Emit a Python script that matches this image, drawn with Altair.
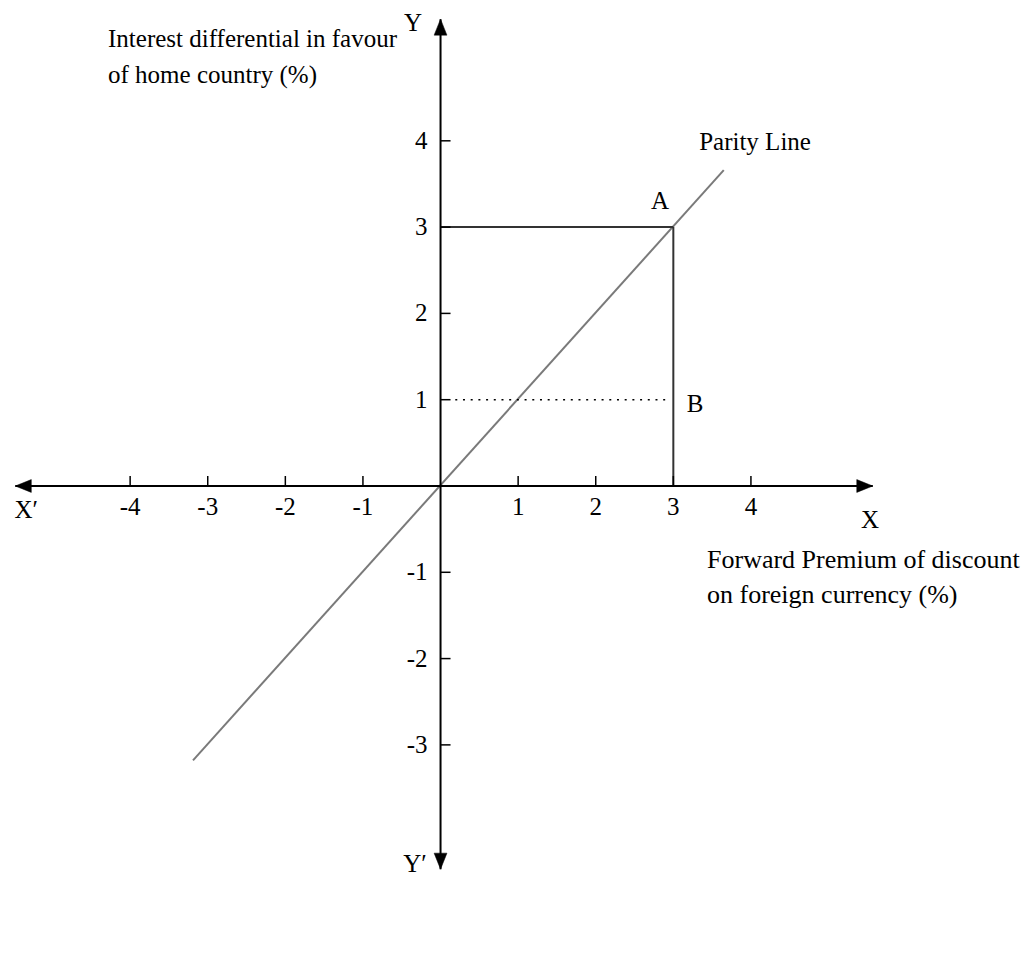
import altair as alt
import pandas as pd

# ---- values ----
X_TICKS = [-4, -3, -2, -1, 1, 2, 3, 4]
Y_TICKS = [-3, -2, -1, 1, 2, 3, 4]
X_AXIS_EXTENT = [-5.48, 5.57]
Y_AXIS_EXTENT = [-4.44, 5.41]
PARITY_X = [-3.19, 3.65]
PARITY_Y = [-3.18, 3.66]
POINT_A = [3, 3]
POINT_B_Y = 1

FONT = "Liberation Serif"
FS = 25
W, H = 1016, 954

xs = alt.Scale(domain=[-5.574, 7.519], nice=False, zero=False)
ys = alt.Scale(domain=[-5.516, 5.539], nice=False, zero=False)


def X(v):
    return alt.X(v, type="quantitative", scale=xs, axis=None)


def Y(v):
    return alt.Y(v, type="quantitative", scale=ys, axis=None)


def DX(v):
    return alt.X(datum=v, scale=xs, axis=None, type="quantitative")


def DY(v):
    return alt.Y(datum=v, scale=ys, axis=None, type="quantitative")


one = pd.DataFrame({"k": [0]})

# axes lines
x_axis = alt.Chart(one).mark_rule(color="black", strokeWidth=2).encode(
    x=DX(X_AXIS_EXTENT[0]), x2=alt.datum(X_AXIS_EXTENT[1]), y=DY(0),
)
y_axis = alt.Chart(one).mark_rule(color="black", strokeWidth=2).encode(
    y=DY(Y_AXIS_EXTENT[0]), y2=alt.datum(Y_AXIS_EXTENT[1]), x=DX(0),
)


def arrow(xv, yv, path):
    return alt.Chart(one).mark_point(
        shape=path, size=256, filled=True, fill="black", stroke="black",
        strokeWidth=0.5, opacity=1
    ).encode(x=DX(xv), y=DY(yv))


arrows = [
    arrow(X_AXIS_EXTENT[1], 0, "M0,0L-2,-0.8L-2,0.8Z"),
    arrow(X_AXIS_EXTENT[0], 0, "M0,0L2,-0.8L2,0.8Z"),
    arrow(0, Y_AXIS_EXTENT[1], "M0,0L-0.8,2L0.8,2Z"),
    arrow(0, Y_AXIS_EXTENT[0], "M0,0L-0.8,-2L0.8,-2Z"),
]

xt = pd.DataFrame({"v": X_TICKS, "lab": [str(v) for v in X_TICKS]})
yt = pd.DataFrame({"v": Y_TICKS, "lab": [str(v) for v in Y_TICKS]})

x_tick_marks = alt.Chart(xt).mark_tick(
    orient="vertical", size=10, thickness=1.5, color="black", yOffset=-5, opacity=1
).encode(x=X("v"), y=DY(0))
y_tick_marks = alt.Chart(yt).mark_tick(
    orient="horizontal", size=10, thickness=1.5, color="black", xOffset=5, opacity=1
).encode(y=Y("v"), x=DX(0))

x_tick_labels = alt.Chart(xt).mark_text(
    font=FONT, fontSize=FS, color="black", align="center", baseline="middle", dy=21
).encode(x=X("v"), y=DY(0), text="lab:N")
y_tick_labels = alt.Chart(yt).mark_text(
    font=FONT, fontSize=FS, color="black", align="right", baseline="middle", dx=-13
).encode(y=Y("v"), x=DX(0), text="lab:N")

# parity line
parity = alt.Chart(pd.DataFrame({"x": PARITY_X, "y": PARITY_Y})).mark_line(
    color="#7a7a7a", strokeWidth=2
).encode(x=X("x"), y=Y("y"))

# box lines to point A
h_line = alt.Chart(one).mark_rule(color="#333333", strokeWidth=2).encode(
    x=DX(0), x2=alt.datum(POINT_A[0]), y=DY(POINT_A[1]),
)
v_line = alt.Chart(one).mark_rule(color="#333333", strokeWidth=2).encode(
    y=DY(0), y2=alt.datum(POINT_A[1]), x=DX(POINT_A[0]),
)
dot_line = alt.Chart(one).mark_rule(color="black", strokeWidth=1.5, strokeDash=[2, 5.7]).encode(
    x=DX(0.19), x2=alt.datum(POINT_A[0] - 0.05), y=DY(POINT_B_Y),
)


def label(txt, xv, yv, align="center", baseline="middle", lineHeight=None, fs=FS):
    kw = dict(font=FONT, fontSize=fs, color="black", align=align, baseline=baseline)
    if lineHeight is not None:
        kw["lineHeight"] = lineHeight
    return alt.Chart(one).mark_text(**kw).encode(
        x=DX(xv), y=DY(yv), text=alt.value(txt),
    )


labels = [
    label("Y", -0.354, 5.36),
    label("Y\u2032", -0.33, -4.38),
    label("X\u2032", -5.34, -0.278),
    label("X", 5.535, -0.394),
    label("A", 2.829, 3.30),
    label("B", 3.28, 0.95),
    label("Parity Line", 4.053, 3.986),
    label(["Interest differential in favour", "of home country (%)"], -4.285, 5.087,
          align="left", baseline="alphabetic", lineHeight=36),
    label(["Forward Premium of discount", "on foreign currency (%)"], 3.434, -0.95,
          align="left", baseline="alphabetic", lineHeight=35, fs=26),
]

chart = alt.layer(
    parity, h_line, v_line, dot_line, x_axis, y_axis, *arrows,
    x_tick_marks, y_tick_marks, x_tick_labels, y_tick_labels, *labels
).properties(
    width=W, height=H, padding=0, autosize=alt.AutoSizeParams(type="none"),
    background="white"
).configure_view(stroke=None)

chart.save("out.html", embed_options={"renderer": "svg", "actions": False})
